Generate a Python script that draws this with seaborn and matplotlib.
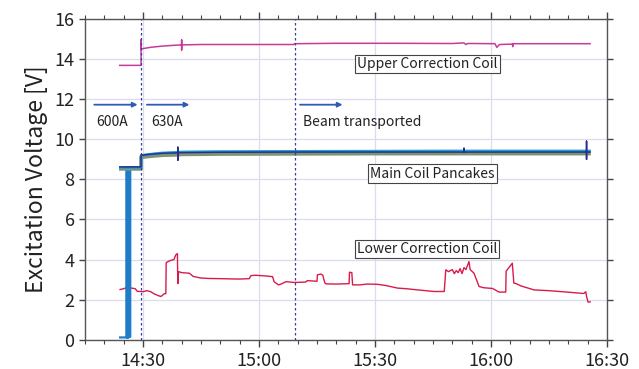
import matplotlib
matplotlib.use("Agg")
import matplotlib.pyplot as plt
import seaborn as sns
import pandas as pd
from matplotlib.ticker import FuncFormatter, MultipleLocator

# time in minutes after 14:00
upper_t = [23.8, 29.5, 29.5, 29.5, 32, 35, 38, 40.0, 40.0, 40.0, 40.0, 45, 55, 69,
           69.2, 80, 95, 110, 113, 113.5, 114, 115, 121, 121.5, 122.2, 125.6, 125.6,
           125.6, 135, 145.8]
upper_v = [13.68, 13.68, 14.95, 14.5, 14.58, 14.64, 14.68, 14.7, 14.95, 14.45, 14.7,
           14.72, 14.72, 14.72, 14.76, 14.78, 14.78, 14.77, 14.8, 14.72, 14.77, 14.77,
           14.76, 14.58, 14.72, 14.74, 14.62, 14.76, 14.76, 14.76]

lower_t = [23.9, 25, 26, 27, 28, 28.5, 30, 31, 32, 32.9, 34, 34.65, 35.5, 35.9, 36.0,
           37, 38, 38.5, 38.9, 39.0, 39.2, 40, 42, 43, 45, 47, 50, 52, 55, 57.5, 57.9,
           59, 60.5, 62, 63.5, 63.9, 65, 65.7, 67, 69.1, 72, 72.5, 75, 75.1, 76, 76.5,
           77, 77.3, 80, 83.3, 83.4, 84, 84.2, 86, 88, 90.6, 93, 95.8, 98, 101, 105.3,
           107.9, 108.3, 109, 110, 110.5, 111, 111.5, 112, 112.5, 113, 113.5, 114.3,
           114.6, 115.6, 116.9, 118, 120.4, 122.1, 123.8, 123.9, 125.5, 125.9, 126.5,
           127.7, 131.1, 135, 139.7, 144, 144.5, 144.7, 145.1, 145.8]
lower_v = [2.5, 2.55, 2.62, 2.58, 2.55, 2.42, 2.4, 2.45, 2.4, 2.29, 2.2, 2.16, 2.3, 2.3,
           3.85, 3.95, 4.0, 4.24, 4.3, 2.8, 3.4, 3.35, 3.32, 3.16, 3.08, 3.06, 3.05,
           3.04, 3.03, 3.05, 3.2, 3.22, 3.2, 3.18, 3.15, 2.9, 2.74, 2.78, 2.9, 2.86,
           2.88, 2.95, 2.92, 3.24, 3.28, 3.22, 2.85, 2.79, 2.78, 2.8, 3.37, 3.35, 2.74,
           2.74, 2.78, 2.77, 2.7, 2.58, 2.55, 2.49, 2.41, 2.41, 3.49, 3.4, 3.5, 3.3,
           3.45, 3.35, 3.55, 3.3, 3.6, 3.5, 3.9, 3.5, 3.32, 2.66, 2.6, 2.56, 2.38,
           2.38, 3.42, 3.82, 2.83, 2.8, 2.69, 2.49, 2.45, 2.38, 2.31, 2.4, 2.16, 1.88,
           1.9]

main_t = [23.8, 29.5, 29.5, 32, 35, 39.0, 39.0, 39.0, 39.0, 40, 50, 70, 90, 110, 113,
          113, 113, 120, 144.7, 144.7, 144.7, 144.7, 145.8]
navy_v = [8.62, 8.62, 9.2, 9.25, 9.3, 9.32, 8.95, 9.6, 9.33, 9.33, 9.35, 9.36, 9.36,
          9.36, 9.36, 9.55, 9.36, 9.36, 9.36, 9.0, 9.9, 9.36, 9.36]
cyan_v = [8.58, 8.58, 9.18, 9.26, 9.32, 9.35, 9.35, 9.35, 9.35, 9.37, 9.39, 9.4, 9.41,
          9.42, 9.42, 9.42, 9.42, 9.42, 9.42, 9.42, 9.42, 9.42, 9.42]
green_v = [8.52, 8.52, 9.1, 9.15, 9.2, 9.22, 9.22, 9.22, 9.22, 9.24, 9.26, 9.27, 9.28,
           9.28, 9.28, 9.28, 9.28, 9.28, 9.28, 9.28, 9.28, 9.28, 9.28]

band_t = [23.8, 25.7, 25.7, 25.95, 25.95, 26.2, 26.2, 26.45, 26.45, 26.7, 26.7, 29.5,
          29.5, 35, 40, 70, 145.8]
band_v = [0.12, 0.12, 8.6, 8.6, 0.1, 0.1, 8.6, 8.6, 0.15, 0.15, 8.6, 8.6, 9.2, 9.3,
          9.34, 9.38, 9.38]

rows = []
for name, ts, vs in [
    ("upper", upper_t, upper_v),
    ("lower", lower_t, lower_v),
    ("band", band_t, band_v),
    ("green", main_t, green_v),
    ("cyan", main_t, cyan_v),
    ("navy", main_t, navy_v),
]:
    for t, v in zip(ts, vs):
        rows.append({"t": t, "v": v, "ch": name})
df = pd.DataFrame(rows)

palette = {
    "upper": "#c63b9a",
    "lower": "#d81b4a",
    "band": "#1f7cc6",
    "green": "#7d9470",
    "cyan": "#22a0d8",
    "navy": "#2a2f8c",
}
widths = {"upper": 1.1, "lower": 1.0, "band": 1.6, "green": 2.6, "cyan": 1.8, "navy": 1.1}

sns.set_theme(style="ticks")
plt.rcParams["font.family"] = ["Noto Sans CJK JP", "DejaVu Sans"]

fig = plt.figure(figsize=(6.39, 3.69), dpi=100)
ax = fig.add_axes([0.133, 0.079, 0.817, 0.870])

for ch, sub in df.groupby("ch", sort=False):
    sns.lineplot(data=sub, x="t", y="v", ax=ax, color=palette[ch], lw=widths[ch],
                 estimator=None, sort=False, legend=False,
                 solid_joinstyle="round", solid_capstyle="butt")

for x in [29.5, 69.2]:
    ax.axvline(x, color="#3a3f9a", lw=0.9, ls=(0, (2, 2)), zorder=5)

arrow_y = 11.72
for x0, x1 in [(17.4, 28.6), (31.0, 42.0), (70.6, 81.6)]:
    ax.annotate("", xy=(x1, arrow_y), xytext=(x0, arrow_y),
                arrowprops=dict(arrowstyle="-|>", color="#2f5bb5", lw=1.3,
                                mutation_scale=7, shrinkA=0, shrinkB=0))
for x, s in [(17.8, "600A"), (32.1, "630A"), (71.4, "Beam transported")]:
    ax.text(x, 10.88, s, fontsize=10, va="center", ha="left", color="#222222")

box = dict(boxstyle="square,pad=0.15", fc="white", ec="#444444", lw=0.8)
ax.text(103.6, 13.76, "Upper Correction Coil", fontsize=10, ha="center", va="center",
        color="#222222", bbox=box)
ax.text(104.8, 8.29, "Main Coil Pancakes", fontsize=10, ha="center", va="center",
        color="#222222", bbox=box)
ax.text(103.5, 4.54, "Lower Correction Coil", fontsize=10, ha="center", va="center",
        color="#222222", bbox=box)

ax.set_xlim(15, 150)
ax.set_ylim(0, 16)
ax.xaxis.set_major_locator(MultipleLocator(30))
ax.xaxis.set_minor_locator(MultipleLocator(5))
ax.yaxis.set_major_locator(MultipleLocator(2))
ax.xaxis.set_major_formatter(FuncFormatter(lambda m, _: f"{14 + int(m) // 60}:{int(m) % 60:02d}"))
ax.grid(True, which="major", color="#dcdcf0", lw=0.9)
ax.tick_params(axis="x", which="both", top=True, direction="out", colors="#444444",
               labelcolor="#222222", labelsize=13)
ax.tick_params(axis="x", which="major", length=5, width=1)
ax.tick_params(axis="x", which="minor", length=3, width=0.8)
ax.tick_params(axis="y", right=True, direction="out", length=4, width=1, colors="#444444",
               labelcolor="#222222", labelsize=13)
for sp in ax.spines.values():
    sp.set_color("#555555")
    sp.set_linewidth(1.0)
ax.set_xlabel("")
ax.set_ylabel("Excitation Voltage [V]", fontsize=16.5, color="#222222", labelpad=5)

fig.savefig("out.png", dpi=100)
